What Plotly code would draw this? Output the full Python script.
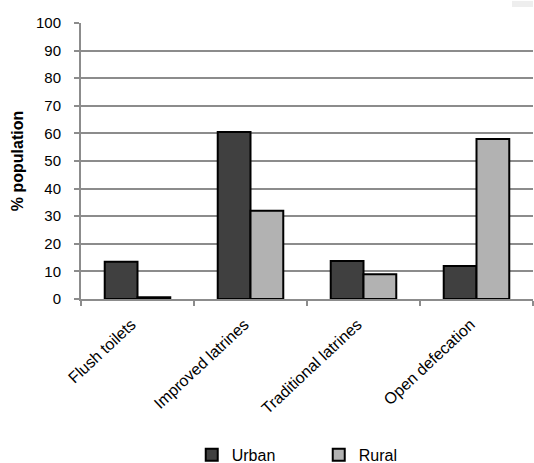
import plotly.graph_objects as go

categories = ["Flush toilets", "Improved latrines", "Traditional latrines", "Open defecation"]
urban = [13.5, 60.5, 13.8, 12.0]
rural = [0.6, 32.0, 9.0, 58.0]
y_ticks = list(range(0, 101, 10))

font_family = "Liberation Sans, Arial, sans-serif"
grid_color = "#8c8c8c"

fig = go.Figure()
fig.add_trace(go.Bar(
    name="Urban", x=categories, y=urban,
    marker=dict(color="#404040", line=dict(color="#000000", width=2)),
))
fig.add_trace(go.Bar(
    name="Rural", x=categories, y=rural,
    marker=dict(color="#b2b2b2", line=dict(color="#000000", width=2)),
))

fig.update_layout(
    width=534, height=463,
    margin=dict(l=81, r=1, t=23, b=164, autoexpand=False),
    paper_bgcolor="white", plot_bgcolor="white",
    barmode="group", bargap=0.42, bargroupgap=0,
    font=dict(family=font_family, size=15, color="#000000"),
    showlegend=True,
    legend=dict(
        orientation="h", x=0.245, xanchor="left", y=-0.565, yanchor="middle",
        font=dict(size=16), itemwidth=30, entrywidth=82, entrywidthmode="pixels",
        tracegroupgap=0,
    ),
    xaxis=dict(
        tickangle=-43, tickson="boundaries", ticks="outside", ticklen=5,
        tickcolor=grid_color, tickwidth=2, showline=True, linecolor=grid_color,
        linewidth=2, showgrid=False, tickfont=dict(size=16), ticklabelstandoff=8,
        ticklabelshift=-6,
    ),
    yaxis=dict(
        range=[0, 100], tickvals=y_ticks, ticks="outside", ticklen=5,
        tickcolor=grid_color, tickwidth=2, showgrid=True, gridcolor=grid_color,
        gridwidth=2, showline=True, linecolor=grid_color, linewidth=2,
        zeroline=False, tickfont=dict(size=15), ticklabelstandoff=10,
        title=dict(text="<b>% population</b>", font=dict(size=16), standoff=8),
    ),
    shapes=[dict(type="rect", xref="paper", yref="paper",
                 x0=(512 - 81) / 452, x1=1.0, y0=1.058, y1=1.08,
                 fillcolor="#eeeeee", line=dict(width=0), layer="below")],
)

fig.write_html("out.html")
